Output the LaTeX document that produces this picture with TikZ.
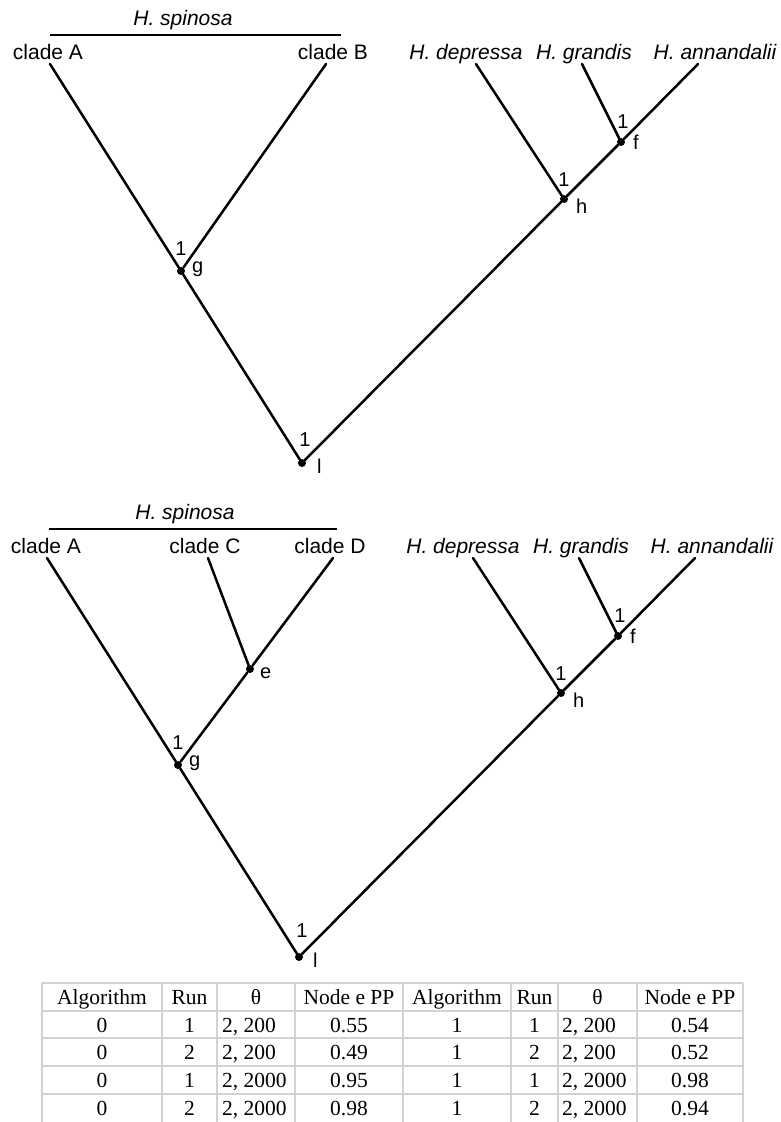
\documentclass[tikz,border=0pt]{standalone}
\usepackage{fontspec}
\setmainfont{Liberation Serif}
\setsansfont{Liberation Sans}
\usetikzlibrary{positioning}
\tikzstyle{branch} = [line width=2.5pt, line cap=round]
\tikzstyle{bar} = [line width=2.8pt]
\tikzstyle{taxon} = [font=\sffamily\fontsize{21}{21}\selectfont, anchor=base, inner sep=0pt]
\tikzstyle{species} = [taxon, font=\sffamily\itshape\fontsize{21}{21}\selectfont]
\tikzstyle{knot} = [circle, fill=black, inner sep=0pt, minimum size=8pt]
\tikzstyle{nodelab} = [font=\sffamily\fontsize{20}{20}\selectfont, inner sep=0pt]
\tikzstyle{cell} = [font=\fontsize{21.5}{21.5}\selectfont, anchor=base, inner sep=0pt]
\tikzstyle{tablerule} = [draw=gray!35, line width=2.5pt]

\begin{document}
\begin{tikzpicture}[x=1pt, y=-1pt]
	\useasboundingbox (0,0) rectangle (780,1122);
	% upper tree
	\node[species] (spinT) at (183,25) {H. spinosa};
	\draw[bar] (50,35) -- (341,35);
	\node[taxon] (cAT) at (48,59) {clade A};
	\node[taxon] (cBT) at (333,59) {clade B};
	\node[species] (depT) at (466,59) {H. depressa};
	\node[species] (graT) at (584,59) {H. grandis};
	\node[species] (annT) at (715,59) {H. annandalii};
	\coordinate (tAT) at (50,64);
	\coordinate (tBT) at (326,64);
	\coordinate (tdepT) at (476,64);
	\coordinate (tgraT) at (582,64);
	\coordinate (tannT) at (698,64);
	\node[knot] (lT) at (302,463) {};
	\node[knot] (gT) at (181,271) {};
	\node[knot] (hT) at (564,199) {};
	\node[knot] (fT) at (621,142) {};
	\draw[branch] (tAT) -- (gT) -- (lT) -- (hT) -- (fT) -- (tannT);
	\draw[branch] (tBT) -- (gT);
	\draw[branch] (tdepT) -- (hT);
	\draw[branch] (tgraT) -- (fT);
	\node[nodelab, above=16pt, xshift=3pt] at (lT) {1};
	\node[nodelab, right=15pt, yshift=-3pt] at (lT) {l};
	\node[nodelab, above=15pt] at (gT) {1};
	\node[nodelab, right=11pt, yshift=2pt] at (gT) {g};
	\node[nodelab, above=12pt] at (hT) {1};
	\node[nodelab, right=12pt, yshift=-7pt] at (hT) {h};
	\node[nodelab, above=13pt, xshift=2pt] at (fT) {1};
	\node[nodelab, right=12pt] at (fT) {f};
	% lower tree
	\node[species] (spinB) at (185,519) {H. spinosa};
	\draw[bar] (49,529) -- (337,529);
	\node[taxon] (cAB) at (46,553) {clade A};
	\node[taxon] (cCB) at (205,553) {clade C};
	\node[taxon] (cDB) at (330,553) {clade D};
	\node[species] (depB) at (463,553) {H. depressa};
	\node[species] (graB) at (581,553) {H. grandis};
	\node[species] (annB) at (712,553) {H. annandalii};
	\coordinate (tAB) at (47,558);
	\coordinate (tCB) at (208,558);
	\coordinate (tDB) at (333,558);
	\coordinate (tdepB) at (473,558);
	\coordinate (tgraB) at (579,558);
	\coordinate (tannB) at (695,558);
	\node[knot] (lB) at (299,957) {};
	\node[knot] (gB) at (178,765) {};
	\node[knot] (eB) at (250,669) {};
	\node[knot] (hB) at (561,693) {};
	\node[knot] (fB) at (618,636) {};
	\draw[branch] (tAB) -- (gB) -- (lB) -- (hB) -- (fB) -- (tannB);
	\draw[branch] (tDB) -- (eB) -- (gB);
	\draw[branch] (tCB) -- (eB);
	\draw[branch] (tdepB) -- (hB);
	\draw[branch] (tgraB) -- (fB);
	\node[nodelab, above=19pt, xshift=3pt] at (lB) {1};
	\node[nodelab, right=14pt, yshift=-3pt] at (lB) {l};
	\node[nodelab, above=15pt] at (gB) {1};
	\node[nodelab, right=11pt, yshift=2pt] at (gB) {g};
	\node[nodelab, right=10pt, yshift=-4pt] at (eB) {e};
	\node[nodelab, above=12pt] at (hB) {1};
	\node[nodelab, right=12pt, yshift=-7pt] at (hB) {h};
	\node[nodelab, above=13pt, xshift=2pt] at (fB) {1};
	\node[nodelab, right=12pt] at (fB) {f};
	% table
	\foreach \x in {42,162,217,295,403,511,558,637,743}
		\draw[tablerule] (\x,983) -- (\x,1122);
	\foreach \y in {983,1011,1038,1066,1094}
		\draw[tablerule] (42,\y) -- (743,\y);
	\node[cell] (hd1) at (102,1004) {Algorithm};
	\node[cell] (hd2) at (189.5,1004) {Run};
	\node[cell] (hd3) at (256,1004) {θ};
	\node[cell] (hd4) at (349,1004) {Node e PP};
	\node[cell] (hd5) at (457,1004) {Algorithm};
	\node[cell] (hd6) at (534.5,1004) {Run};
	\node[cell] (hd7) at (597.5,1004) {θ};
	\node[cell] (hd8) at (690,1004) {Node e PP};
	\foreach \a/\r/\t/\p/\b/\s/\u/\q [count=\i] in
		{0/1/{2, 200}/0.55/1/1/{2, 200}/0.54,
		 0/2/{2, 200}/0.49/1/2/{2, 200}/0.52,
		 0/1/{2, 2000}/0.95/1/1/{2, 2000}/0.98,
		 0/2/{2, 2000}/0.98/1/2/{2, 2000}/0.94}
	{
		\node[cell] (a\i) at (102,{1011+(\i-1)*27.7+21}) {\a};
		\node[cell] (r\i) at (189.5,{1011+(\i-1)*27.7+21}) {\r};
		\node[cell, anchor=base west] (t\i) at (222,{1011+(\i-1)*27.7+21}) {\t};
		\node[cell] (p\i) at (349,{1011+(\i-1)*27.7+21}) {\p};
		\node[cell] (b\i) at (457,{1011+(\i-1)*27.7+21}) {\b};
		\node[cell] (s\i) at (534.5,{1011+(\i-1)*27.7+21}) {\s};
		\node[cell, anchor=base west] (u\i) at (562,{1011+(\i-1)*27.7+21}) {\u};
		\node[cell] (q\i) at (690,{1011+(\i-1)*27.7+21}) {\q};
	}
\end{tikzpicture}
\end{document}
